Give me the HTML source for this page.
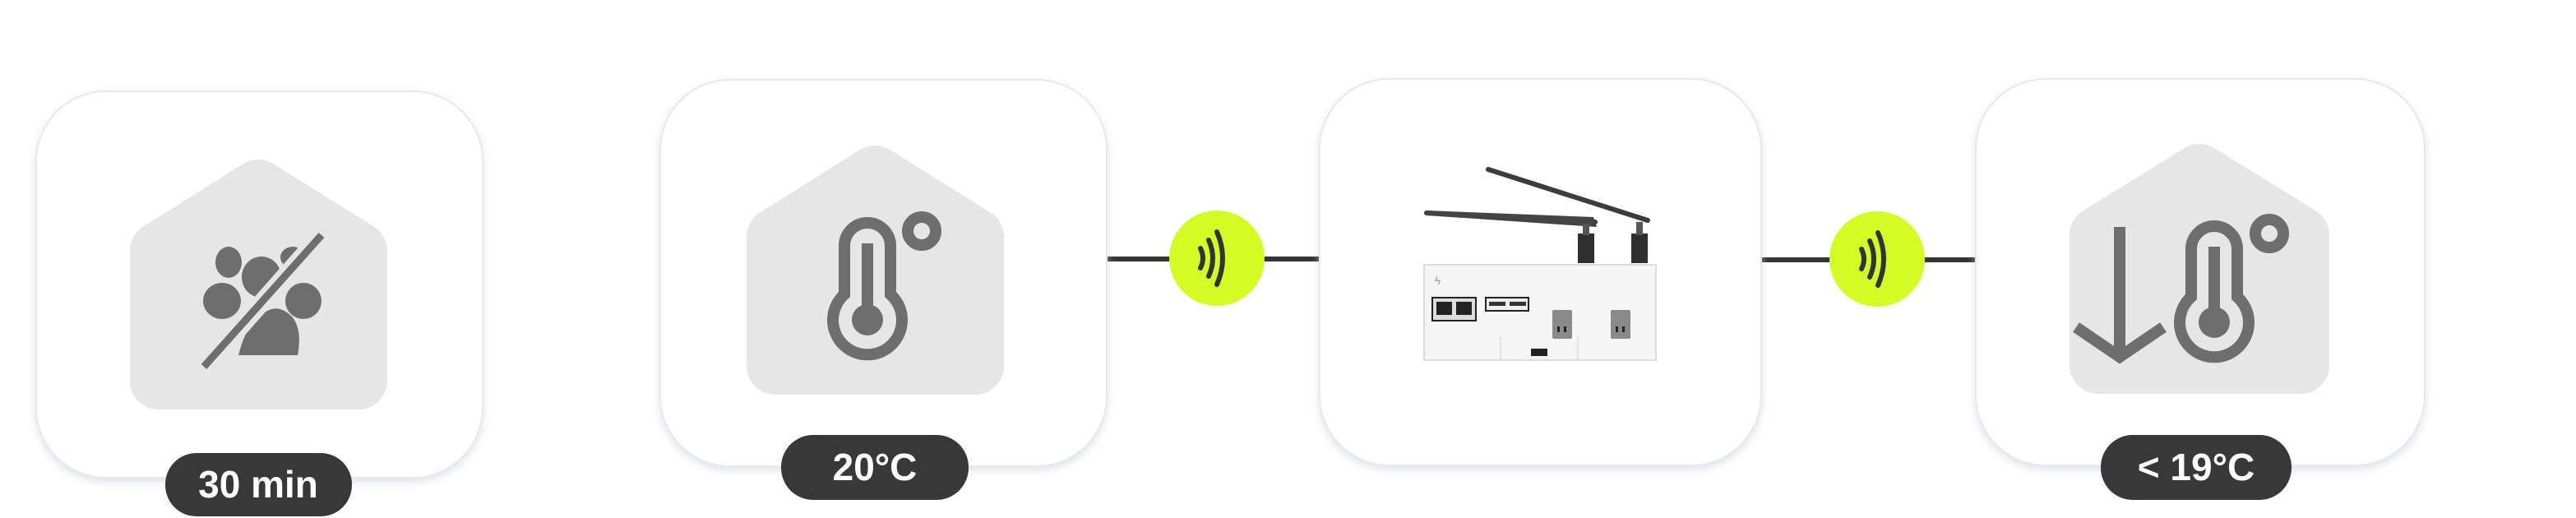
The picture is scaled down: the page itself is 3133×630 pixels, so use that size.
<!DOCTYPE html>
<html><head><meta charset="utf-8"><style>
html,body{margin:0;padding:0;background:#fff;}
svg{display:block;}
text{font-family:"Liberation Sans",sans-serif;font-weight:bold;}
</style></head><body>
<svg width="3133" height="630" viewBox="0 0 3133 630" xmlns="http://www.w3.org/2000/svg">
<defs>
<filter id="sh" x="-10%" y="-10%" width="120%" height="125%">
<feDropShadow dx="0" dy="4" stdDeviation="5" flood-color="#c8ced8" flood-opacity="0.6"/>
</filter>
</defs>
<line x1="1340" y1="315" x2="1610" y2="315" stroke="#333" stroke-width="6"/>
<line x1="2138" y1="316" x2="2410" y2="316" stroke="#333" stroke-width="6"/>
<rect x="44" y="111" width="543" height="470" rx="85" fill="#fff" stroke="#e6e9ee" stroke-width="2" filter="url(#sh)"/>
<rect x="803" y="97" width="543" height="470" rx="85" fill="#fff" stroke="#e6e9ee" stroke-width="2" filter="url(#sh)"/>
<rect x="1605" y="96" width="537" height="470" rx="85" fill="#fff" stroke="#e6e9ee" stroke-width="2" filter="url(#sh)"/>
<rect x="2403" y="96" width="546" height="470" rx="85" fill="#fff" stroke="#e6e9ee" stroke-width="2" filter="url(#sh)"/>
<polygon points="193,305 314,229 436,305 436,463 193,463" fill="#e6e6e6" stroke="#e6e6e6" stroke-width="70" stroke-linejoin="round"/>
<polygon points="943,288 1064,212 1186,288 1186,445 943,445" fill="#e6e6e6" stroke="#e6e6e6" stroke-width="70" stroke-linejoin="round"/>
<polygon points="2552,286 2675,210 2798,286 2798,444 2552,444" fill="#e6e6e6" stroke="#e6e6e6" stroke-width="70" stroke-linejoin="round"/>
<g fill="#6e6e6e">
<ellipse cx="278" cy="319" rx="16" ry="19"/>
<ellipse cx="318" cy="337" rx="24" ry="25"/>
<ellipse cx="356" cy="313" rx="15" ry="13"/>
<ellipse cx="270" cy="366" rx="23" ry="22"/>
<ellipse cx="369" cy="366" rx="22" ry="22"/>
<path d="M290,432 L362,432 Q368,400 355,385 Q340,370 325,378 Q300,390 290,432 Z"/>
</g>
<line x1="396" y1="280" x2="244" y2="452" stroke="#e6e6e6" stroke-width="22"/>
<line x1="391" y1="286" x2="248" y2="446" stroke="#6e6e6e" stroke-width="9"/>
<g fill="none" stroke="#6e6e6e">
<path d="M1027,358 L1027,299 A28,28 0 0 1 1083,299 L1083,358 A42,42 0 1 1 1027,358 Z" stroke-width="14"/>
<circle cx="1121" cy="281" r="17" stroke-width="14"/>
</g>
<rect x="1048" y="296" width="14" height="95" fill="#6e6e6e"/>
<circle cx="1055" cy="389" r="19" fill="#6e6e6e"/>
<g fill="none" stroke="#6e6e6e">
<path d="M2665,361 L2665,303 A28,28 0 0 1 2721,303 L2721,361 A42,42 0 1 1 2665,361 Z" stroke-width="14"/>
<circle cx="2760" cy="284" r="17" stroke-width="14"/>
<line x1="2578" y1="276" x2="2578" y2="436" stroke-width="14"/>
<polyline points="2525,398 2578,434 2631,398" stroke-width="14"/>
</g>
<rect x="2686" y="300" width="14" height="95" fill="#6e6e6e"/>
<circle cx="2693" cy="392" r="19" fill="#6e6e6e"/>
<g>
<line x1="1735" y1="259" x2="1940" y2="270" stroke="#3c3c3c" stroke-width="6" stroke-linecap="round"/>
<polygon points="1735,256 1938,264 1942,276 1735,262" fill="#444"/>
<line x1="1810" y1="206" x2="2004" y2="268" stroke="#3c3c3c" stroke-width="6" stroke-linecap="round"/>
<rect x="1919" y="284" width="20" height="36" fill="#2f2f2f"/>
<rect x="1984" y="284" width="20" height="36" fill="#2f2f2f"/>
<rect x="1925" y="272" width="8" height="14" fill="#555"/>
<rect x="1990" y="270" width="8" height="16" fill="#555"/>
<rect x="1732" y="322" width="282" height="116" fill="#f5f5f5" stroke="#dcdcdc" stroke-width="2"/>
<text x="1745" y="346" font-size="14" fill="#aaa">ϟ</text>
<rect x="1742" y="362" width="53" height="28" fill="#ddd" stroke="#222" stroke-width="2"/>
<rect x="1747" y="367" width="19" height="16" fill="#222"/>
<rect x="1771" y="367" width="19" height="16" fill="#222"/>
<rect x="1807" y="362" width="52" height="16" fill="#eee" stroke="#222" stroke-width="2"/>
<rect x="1811" y="367" width="20" height="5" fill="#333"/>
<rect x="1836" y="367" width="20" height="5" fill="#333"/>
<rect x="1888" y="377" width="24" height="35" rx="2" fill="#8a8a8a"/>
<rect x="1959" y="377" width="24" height="35" rx="2" fill="#8a8a8a"/>
<rect x="1894" y="397" width="3" height="7" fill="#222"/><rect x="1902" y="397" width="3" height="7" fill="#222"/>
<rect x="1965" y="397" width="3" height="7" fill="#222"/><rect x="1973" y="397" width="3" height="7" fill="#222"/>
<line x1="1825" y1="410" x2="1825" y2="438" stroke="#ddd" stroke-width="1.5"/>
<line x1="1919" y1="410" x2="1919" y2="438" stroke="#ddd" stroke-width="1.5"/>
<rect x="1862" y="424" width="20" height="9" fill="#222"/>
</g>
<g>
<circle cx="1480" cy="314" r="58" fill="#d4fc24"/>
<g fill="none" stroke="#333" stroke-width="6" stroke-linecap="round">
<path d="M1460,302 Q1466,314 1460,326"/>
<path d="M1470,292 Q1480,314 1470,336"/>
<path d="M1480,282 Q1494,314 1480,346"/>
</g>
<circle cx="2283" cy="315" r="58" fill="#d4fc24"/>
<g fill="none" stroke="#333" stroke-width="6" stroke-linecap="round">
<path d="M2264,303 Q2270,315 2264,327"/>
<path d="M2274,293 Q2284,315 2274,337"/>
<path d="M2284,283 Q2298,315 2284,347"/>
</g>
</g>
<rect x="201" y="551" width="227" height="77" rx="38" fill="#383838"/>
<text x="314" y="605" font-size="46" fill="#fff" text-anchor="middle">30 min</text>
<rect x="950" y="529" width="228" height="79" rx="39" fill="#383838"/>
<text x="1064" y="584" font-size="46" fill="#fff" text-anchor="middle">20°C</text>
<rect x="2555" y="529" width="232" height="79" rx="39" fill="#383838"/>
<text x="2671" y="584" font-size="46" fill="#fff" text-anchor="middle">&lt; 19°C</text>
</svg>
</body></html>
